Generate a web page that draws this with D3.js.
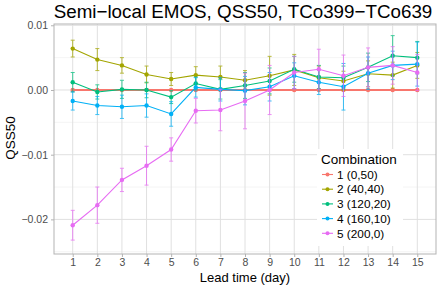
<!DOCTYPE html>
<html>
<head>
<meta charset="utf-8">
<script src="https://cdn.jsdelivr.net/npm/d3@7"></script>
<style>
  body { margin: 0; background: #fff; }
  svg { font-family: "Liberation Sans", Arial, sans-serif; display: block; }
</style>
</head>
<body>
<div id="chart"></div>
<script>
let days = d3.range(1, 16)
let combos = ['1 (0,50)', '2 (40,40)', '3 (120,20)', '4 (160,10)', '5 (200,0)']
let colors = ['#F8766D', '#A3A500', '#00BF7D', '#00B0F6', '#E76BF3']

// QSS50 means per lead day, one array per combination
let qss1 = [0, 0, 0, 0, 0, 0, 0, 0, 0, 0, 0, 0, 0, 0, 0]
let qss2 = [0.0064, 0.0047, 0.0038, 0.0024, 0.0017, 0.0023, 0.0020, 0.0015, 0.0022, 0.0031, 0.0019, 0.0014, 0.0025, 0.0023, 0.0038]
let qss3 = [0.0012, -0.0003, 0.0001, 0.0000, -0.0011, 0.0010, 0.0001, 0.0007, 0.0014, 0.0032, 0.0020, 0.0019, 0.0035, 0.0053, 0.0050]
let qss4 = [-0.0017, -0.0024, -0.0026, -0.0024, -0.0037, 0.0004, 0.0001, -0.0001, 0.0005, 0.0022, 0.0012, 0.0005, 0.0026, 0.0038, 0.0040]
let qss5 = [-0.0209, -0.0178, -0.0139, -0.0117, -0.0092, -0.0032, -0.0031, -0.0017, 0.0000, 0.0027, 0.0032, 0.0022, 0.0035, 0.0038, 0.0027]

// half widths of the error bars
let err1 = [0, 0, 0, 0, 0, 0, 0, 0, 0, 0, 0, 0, 0, 0, 0]
let err2 = [0.0013, 0.0017, 0.0012, 0.0013, 0.0010, 0.0013, 0.0017, 0.0015, 0.0030, 0.0024, 0.0018, 0.0015, 0.0020, 0.0020, 0.0020]
let err3 = [0.0015, 0.0011, 0.0014, 0.0012, 0.0010, 0.0010, 0.0015, 0.0020, 0.0020, 0.0020, 0.0018, 0.0018, 0.0022, 0.0031, 0.0025]
let err4 = [0.0014, 0.0014, 0.0018, 0.0018, 0.0019, 0.0015, 0.0018, 0.0022, 0.0022, 0.0020, 0.0019, 0.0036, 0.0025, 0.0022, 0.0034]
let err5 = [0.0023, 0.0028, 0.0018, 0.0030, 0.0018, 0.0019, 0.0032, 0.0043, 0.0038, 0.0025, 0.0031, 0.0032, 0.0030, 0.0029, 0.0028]

let yTicks = [0.01, 0, -0.01, -0.02]
let yMinor = [0.005, -0.005, -0.015, -0.025]

let series = [qss1, qss2, qss3, qss4, qss5].map((vals, i) => ({
  name: combos[i],
  color: colors[i],
  points: vals.map((v, j) => ({ day: days[j], v: v, e: [err1, err2, err3, err4, err5][i][j] }))
}))

let width = 441, height = 289
let svg = d3.select('#chart').append('svg')
  .attr('width', width)
  .attr('height', height)

let pLeft = 54, pRight = 436, pTop = 24, pBottom = 254

let x = d3.scaleLinear().domain([0.24, 15.76]).range([pLeft, pRight])
let y = d3.scaleLinear().domain([-0.02535, 0.0102]).range([pBottom, pTop])

let fmt = d => (d < 0 ? '\u2212' : '') + d3.format('.2f')(Math.abs(d))

// grid
let grid = svg.append('g')
grid.selectAll('.minor').data(yMinor).enter().append('line')
  .attr('x1', pLeft).attr('x2', pRight)
  .attr('y1', d => y(d)).attr('y2', d => y(d))
  .attr('stroke', '#EDEDED').attr('stroke-width', 0.6)
grid.selectAll('.hmaj').data(yTicks).enter().append('line')
  .attr('x1', pLeft).attr('x2', pRight)
  .attr('y1', d => y(d)).attr('y2', d => y(d))
  .attr('stroke', '#E0E0E0').attr('stroke-width', 1)
grid.selectAll('.vmaj').data(days).enter().append('line')
  .attr('x1', d => x(d)).attr('x2', d => x(d))
  .attr('y1', pTop).attr('y2', pBottom)
  .attr('stroke', '#E0E0E0').attr('stroke-width', 1)

// axes
let yAxis = svg.append('g')
  .attr('transform', `translate(${pLeft},0)`)
  .call(d3.axisLeft(y).tickValues(yTicks).tickFormat(fmt).tickSize(3).tickPadding(3))
let xAxis = svg.append('g')
  .attr('transform', `translate(0,${pBottom})`)
  .call(d3.axisBottom(x).tickValues(days).tickFormat(d3.format('d')).tickSize(3).tickPadding(2))
;[xAxis, yAxis].forEach(a => {
  a.select('.domain').remove()
  a.selectAll('line').attr('stroke', '#B3B3B3')
  a.selectAll('text').attr('fill', '#4D4D4D')
    .style('font-size', '10.5px')
    .style('font-family', '"Liberation Sans", Arial, sans-serif')
})

// series
let plot = svg.append('g')
let line = d3.line().x(d => x(d.day)).y(d => y(d.v))
series.forEach(s => {
  let g = plot.append('g')
  let eb = g.append('g').attr('opacity', 0.75)
    .selectAll('g').data(s.points.filter(p => p.e > 0)).enter().append('g')
    .attr('stroke', s.color).attr('stroke-width', 1)
  eb.append('line')
    .attr('x1', d => x(d.day)).attr('x2', d => x(d.day))
    .attr('y1', d => y(d.v - d.e)).attr('y2', d => y(d.v + d.e))
  eb.append('line')
    .attr('x1', d => x(d.day) - 2).attr('x2', d => x(d.day) + 2)
    .attr('y1', d => y(d.v + d.e)).attr('y2', d => y(d.v + d.e))
  eb.append('line')
    .attr('x1', d => x(d.day) - 2).attr('x2', d => x(d.day) + 2)
    .attr('y1', d => y(d.v - d.e)).attr('y2', d => y(d.v - d.e))
  g.append('path')
    .attr('d', line(s.points))
    .attr('fill', 'none')
    .attr('stroke', s.color)
    .attr('stroke-width', s.name === combos[0] ? 1.8 : 1.1)
  g.selectAll('circle').data(s.points).enter().append('circle')
    .attr('cx', d => x(d.day)).attr('cy', d => y(d.v))
    .attr('r', 2.2)
    .attr('fill', s.color)
})

// panel border
svg.append('rect')
  .attr('x', pLeft).attr('y', pTop)
  .attr('width', pRight - pLeft).attr('height', pBottom - pTop)
  .attr('fill', 'none').attr('stroke', '#B3B3B3').attr('stroke-width', 1)

// titles
svg.append('text')
  .attr('x', 243).attr('y', 18)
  .attr('text-anchor', 'middle')
  .style('font-size', '18.8px')
  .text('Semi\u2212local EMOS, QSS50, TCo399\u2212TCo639')
svg.append('text')
  .attr('x', 245).attr('y', 282)
  .attr('text-anchor', 'middle')
  .style('font-size', '13px')
  .text('Lead time (day)')
svg.append('text')
  .attr('transform', 'translate(15,138) rotate(-90)')
  .attr('text-anchor', 'middle')
  .style('font-size', '13.5px')
  .text('QSS50')

// legend
let leg = svg.append('g')
leg.append('rect')
  .attr('x', 317).attr('y', 149)
  .attr('width', 86).attr('height', 97)
  .attr('fill', '#fff')
leg.append('text')
  .attr('x', 321).attr('y', 164)
  .style('font-size', '13.5px')
  .text('Combination')
let items = leg.selectAll('.item').data(series).enter().append('g')
  .attr('transform', (d, i) => `translate(322,${174.5 + i * 14.7})`)
items.append('line')
  .attr('x1', 0).attr('x2', 11)
  .attr('stroke', d => d.color).attr('stroke-width', 1.1)
items.append('circle')
  .attr('cx', 5.5).attr('r', 2)
  .attr('fill', d => d.color)
items.append('text')
  .attr('x', 15).attr('y', 4.2)
  .style('font-size', '11.8px')
  .text(d => d.name)
</script>
</body>
</html>
